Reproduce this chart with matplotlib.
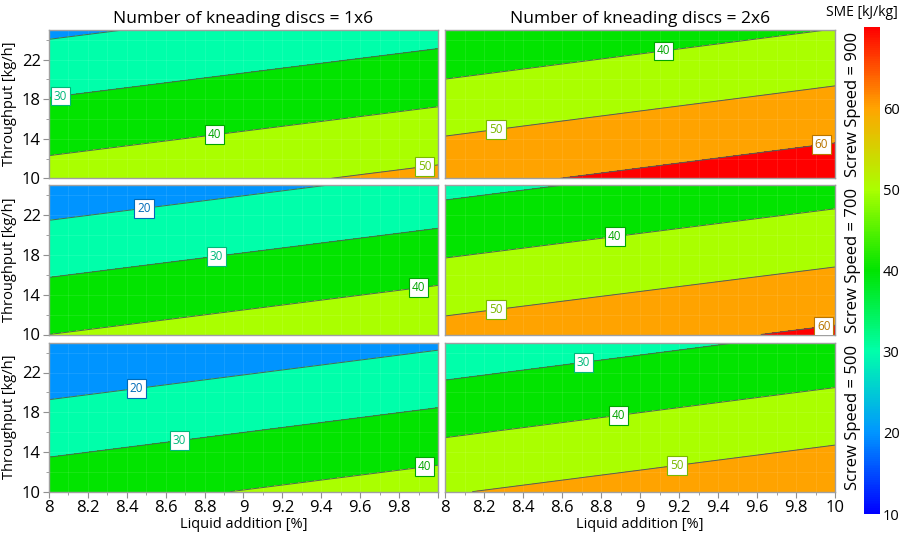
import numpy as np
import matplotlib
matplotlib.use("Agg")
import matplotlib.pyplot as plt
from matplotlib.colors import LinearSegmentedColormap, Normalize, to_rgb
from matplotlib.cm import ScalarMappable

plt.rcParams['font.family'] = ['Open Sans', 'DejaVu Sans']

# grid corners (SME at the corners of each panel)
liquid = [8, 10]
throughput = [10, 25]
# rows: throughput 10, 25 ; cols: liquid 8, 10
sme_1x6_900 = [[43.9, 52.3], [18.4, 26.8]]
sme_2x6_900 = [[57.4, 66.2], [31.4, 40.2]]
sme_1x6_700 = [[40.0, 48.6], [13.9, 22.5]]
sme_2x6_700 = [[53.2, 61.6], [27.5, 36.0]]
sme_1x6_500 = [[36.0, 44.6], [10.1, 18.7]]
sme_2x6_500 = [[49.4, 58.1], [23.5, 32.2]]

screw_speeds = [900, 700, 500]
discs = ['1x6', '2x6']
levels = [10, 20, 30, 40, 50, 60, 70]
line_levels = [20, 30, 40, 50, 60]

# colour map
nodes = ['#0000FF', '#0096FF', '#00FFAA', '#00E400', '#AAFF00', '#FFA500', '#FF0000']
cmap = LinearSegmentedColormap.from_list('sme', nodes)
norm = Normalize(10, 70)
band_colors = [cmap(norm(v)) for v in levels[1:]]

# where the inline labels sit (x, y)
label_pos = {
    (0, 0): [(8.06, 18.2), (8.85, 14.4), (9.93, 11.3)],
    (0, 1): [(9.12, 22.8), (8.26, 14.8), (9.93, 13.3)],
    (1, 0): [(8.49, 22.6), (8.86, 17.8), (9.9, 14.6)],
    (1, 1): [(8.87, 19.9), (8.26, 12.5), (9.94, 11.1)],
    (2, 0): [(8.45, 20.3), (8.67, 15.1), (9.93, 12.6)],
    (2, 1): [(8.71, 23.0), (8.89, 17.6), (9.19, 12.6)],
}
data = [[sme_1x6_900, sme_2x6_900],
        [sme_1x6_700, sme_2x6_700],
        [sme_1x6_500, sme_2x6_500]]

fig = plt.figure(figsize=(9.03, 5.45), dpi=100)
W, H = 903.0, 545.0
col_x = [(49, 389), (445.3, 389.7)]
row_y = [(30, 148.3), (185.5, 149), (342.7, 149)]

X, Y = np.meshgrid(liquid, throughput)

for r in range(3):
    for c in range(2):
        x0, w = col_x[c]
        y0, h = row_y[r]
        ax = fig.add_axes([x0 / W, (H - y0 - h) / H, w / W, h / H])
        Z = np.array(data[r][c])
        ax.contourf(X, Y, Z, levels=levels, colors=band_colors)
        cs = ax.contour(X, Y, Z, levels=line_levels, colors='#4a6658', linewidths=0.7)
        texts = ax.clabel(cs, manual=label_pos[(r, c)], inline=False, fmt='%d', fontsize=8.5)
        for t in texts:
            lev = float(t.get_text())
            col = np.array(to_rgb(cmap(norm(lev)))) * 0.72
            t.set_rotation(0)
            t.set_color(col)
            t.set_bbox(dict(boxstyle='square,pad=0.25', fc='white', ec=col, lw=0.8))
        ax.set_xlim(8, 10)
        ax.set_ylim(10, 25)
        ax.set_xticks(np.arange(8, 10.01, 0.2))
        ax.set_xticks(np.arange(8, 10.01, 0.1), minor=True)
        ax.set_yticks([10, 14, 18, 22])
        ax.set_yticks(np.arange(10, 25.01, 2), minor=True)
        ax.grid(which='both', color='white', alpha=0.12, lw=0.5)
        for s in ax.spines.values():
            s.set_color('#a0a0a0')
            s.set_linewidth(1)
        ax.tick_params(which='both', color='#909090', labelsize=12, pad=2)
        ax.tick_params(which='major', length=4)
        ax.tick_params(which='minor', length=2.5)
        if r == 2:
            labs = ['%g' % v for v in np.round(np.arange(8, 10.01, 0.2), 1)]
            if c == 0:
                labs[-1] = ''
            ax.set_xticklabels(labs)
            ax.set_xlabel('Liquid addition [%]', fontsize=10.5, labelpad=1)
        else:
            ax.tick_params(axis='x', which='both', bottom=False, labelbottom=False)
        if c == 0:
            ax.set_ylabel('Throughput [kg/h]', fontsize=10.5, labelpad=3)
        else:
            ax.tick_params(axis='y', which='both', left=False, labelleft=False)
        if r == 0:
            ax.set_title('Number of kneading discs = ' + discs[c], fontsize=12.5, pad=5)
        if c == 1:
            fig.text(853 / W, 1 - (y0 + h / 2) / H, 'Screw Speed = %d' % screw_speeds[r],
                     rotation=90, ha='center', va='center', fontsize=12)

# colour bar
cax = fig.add_axes([864 / W, (H - 514) / H, 16 / W, 487 / H])
cb = fig.colorbar(ScalarMappable(norm=norm, cmap=cmap), cax=cax, ticks=[10, 20, 30, 40, 50, 60])
cb.outline.set_visible(False)
cax.tick_params(length=0, labelsize=10.5, pad=2)
fig.text(862 / W, 1 - 12 / H, 'SME [kJ/kg]', ha='center', va='center', fontsize=10)

fig.savefig('out.png', dpi=100)
